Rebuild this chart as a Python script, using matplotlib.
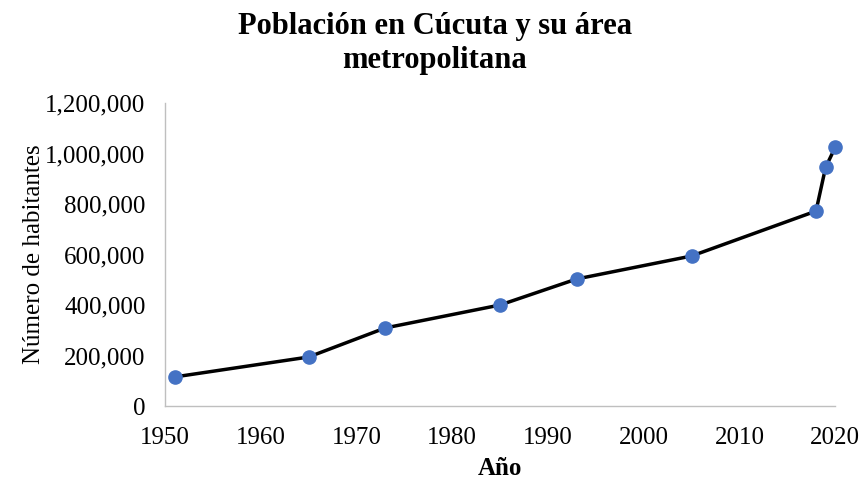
import matplotlib.pyplot as plt
from matplotlib.ticker import FuncFormatter

plt.rcParams['font.family'] = ['Liberation Serif', 'DejaVu Serif']

# data
years = [1951, 1965, 1973, 1985, 1993, 2005, 2018, 2019, 2020]
population = [115000, 194000, 309000, 400000, 503000, 594000, 772000, 945000, 1024000]

fig = plt.figure(figsize=(8.61, 4.79), dpi=100)
ax = fig.add_axes([0.1916, 0.1524, 0.7784, 0.6326])

ax.plot(years, population, color='black', linewidth=2.5, zorder=2)
ax.plot(years, population, 'o', color='#4472C4', markersize=9.5, zorder=3,
        clip_on=False)

ax.set_xlim(1950, 2020)
ax.set_ylim(0, 1200000)
ax.set_xticks(range(1950, 2021, 10))
ax.set_yticks(range(0, 1200001, 200000))
ax.yaxis.set_major_formatter(FuncFormatter(lambda v, p: f'{int(v):,}'))

for side in ['top', 'right']:
    ax.spines[side].set_visible(False)
for side in ['left', 'bottom']:
    ax.spines[side].set_color('#BFBFBF')
    ax.spines[side].set_linewidth(1)
ax.tick_params(length=0, labelsize=18)
ax.tick_params(axis='y', pad=14)
ax.tick_params(axis='x', pad=15)

ax.set_xlabel('Año', fontsize=18, fontweight='bold', labelpad=6)
ax.set_ylabel('Número de habitantes', fontsize=18, labelpad=0)
fig.suptitle('Población en Cúcuta y su área\nmetropolitana', fontsize=22,
             fontweight='bold', x=0.505, y=0.975, linespacing=1.25)

fig.savefig('out.png', dpi=100)
